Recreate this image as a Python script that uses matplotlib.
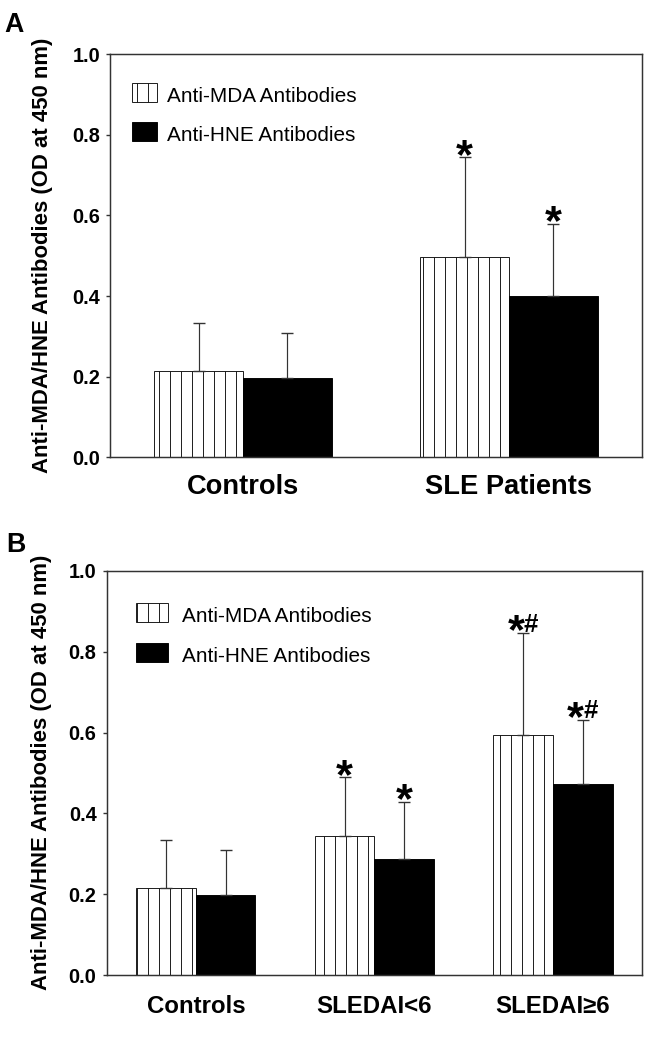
import matplotlib
matplotlib.use('Agg')
import matplotlib.pyplot as plt
from matplotlib.patches import Rectangle
import numpy as np

# ---------------- data ----------------
groups_a = ['Controls', 'SLE Patients']
mda_a = [0.215, 0.496]
mda_a_sd = [0.119, 0.248]
hne_a = [0.197, 0.400]
hne_a_sd = [0.112, 0.178]
marks_a_mda = ['', '*']
marks_a_hne = ['', '*']

groups_b = ['Controls', 'SLEDAI<6', 'SLEDAI\u22656']
mda_b = [0.216, 0.345, 0.594]
mda_b_sd = [0.119, 0.144, 0.252]
hne_b = [0.199, 0.287, 0.474]
hne_b_sd = [0.111, 0.141, 0.158]
marks_b_mda = ['', '*', '*#']
marks_b_hne = ['', '*', '*#']

yticks = [0.0, 0.2, 0.4, 0.6, 0.8, 1.0]
ylabel = 'Anti-MDA/HNE Antibodies (OD at 450 nm)'
legend_labels = ['Anti-MDA Antibodies', 'Anti-HNE Antibodies']

# ---------------- style ----------------
DPI = 66.5
plt.rcParams['font.family'] = ['Liberation Sans', 'DejaVu Sans']
plt.rcParams['hatch.linewidth'] = 1.0
plt.rcParams['hatch.color'] = '#222222'
SPINE = '#333333'

fig = plt.figure(figsize=(665 / DPI, 1050 / DPI), dpi=DPI)
axA = fig.add_axes([0.1654, 0.5645, 0.8000, 0.3838])
axB = fig.add_axes([0.1602, 0.0714, 0.8057, 0.3848])


def annotate(ax, x, top, mark):
    if not mark:
        return
    if mark == '*':
        ax.annotate('*', xy=(x, top), xytext=(0, -11), textcoords='offset points',
                    ha='center', va='baseline', fontsize=47, fontweight='bold',
                    color='black', zorder=6)
    else:
        ax.annotate('*', xy=(x, top), xytext=(1.5, -11), textcoords='offset points',
                    ha='right', va='baseline', fontsize=47, fontweight='bold',
                    color='black', zorder=6)
        ax.annotate('#', xy=(x, top), xytext=(0.3, 1.8), textcoords='offset points',
                    ha='left', va='baseline', fontsize=28, fontweight='bold',
                    color='black', zorder=6)


def panel(ax, groups, mda, mda_sd, hne, hne_sd, m_mda, m_hne, xfs, xpad,
          leg_x, leg_w, leg_y, leg_h, text_x):
    n = len(groups)
    x = np.arange(n)
    w = 1.0 / 3.0
    ax.bar(x - w / 2, mda, w, color='white', edgecolor='#111111', hatch='|',
           linewidth=1.0, zorder=2)
    ax.bar(x + w / 2, hne, w, color='black', edgecolor='black', linewidth=1.0, zorder=2)
    z = np.zeros(n)
    ax.errorbar(x - w / 2, mda, yerr=[z, mda_sd], fmt='none', ecolor='#333333',
                elinewidth=1.3, capsize=6.5, capthick=1.5, zorder=3)
    ax.errorbar(x + w / 2, hne, yerr=[z, hne_sd], fmt='none', ecolor='#333333',
                elinewidth=1.3, capsize=6.5, capthick=1.5, zorder=3)
    for i in range(n):
        annotate(ax, x[i] - w / 2, mda[i] + mda_sd[i], m_mda[i])
        annotate(ax, x[i] + w / 2, hne[i] + hne_sd[i], m_hne[i])

    ax.set_xlim(-0.5, n - 0.5)
    ax.set_ylim(0, 1.0)
    ax.set_yticks(yticks)
    ax.set_yticklabels(['%.1f' % v for v in yticks], fontsize=21.5, fontweight='bold')
    ax.set_xticks(x)
    ax.set_xticklabels(groups, fontsize=xfs, fontweight='bold')
    ax.tick_params(axis='x', length=0, pad=xpad)
    ax.tick_params(axis='y', length=4.3, width=1.5, color=SPINE, pad=6.5, direction='out')
    for s in ax.spines.values():
        s.set_linewidth(1.6)
        s.set_color(SPINE)

    # legend (manual)
    styles = [dict(facecolor='white', edgecolor='#111111', hatch='|'),
              dict(facecolor='black', edgecolor='black')]
    for j in range(2):
        r = Rectangle((leg_x, leg_y[j]), leg_w, leg_h, transform=ax.transAxes,
                      linewidth=1.0, zorder=4, **styles[j])
        ax.add_patch(r)
        ax.text(text_x, leg_y[j], legend_labels[j], transform=ax.transAxes,
                fontsize=22.5, ha='left', va='baseline', zorder=5)


panel(axA, groups_a, mda_a, mda_a_sd, hne_a, hne_a_sd, marks_a_mda, marks_a_hne,
      xfs=29.5, xpad=18, leg_x=0.0414, leg_w=0.047, leg_y=[0.8816, 0.785],
      leg_h=0.0471, text_x=0.107)
panel(axB, groups_b, mda_b, mda_b_sd, hne_b, hne_b_sd, marks_b_mda, marks_b_hne,
      xfs=26, xpad=21.5, leg_x=0.055, leg_w=0.06, leg_y=[0.874, 0.775],
      leg_h=0.048, text_x=0.141)

fig.text(43 / 665, 1 - 255 / 1050, ylabel, rotation=90, ha='center', va='center',
         fontsize=24, fontweight='bold')
fig.text(41.5 / 665, 1 - 772 / 1050, ylabel, rotation=90, ha='center', va='center',
         fontsize=24, fontweight='bold')
fig.text(4 / 665, 1 - 32 / 1050, 'A', ha='left', va='baseline', fontsize=29, fontweight='bold')
fig.text(6 / 665, 1 - 552 / 1050, 'B', ha='left', va='baseline', fontsize=29, fontweight='bold')

fig.savefig('out.png', dpi=DPI)
